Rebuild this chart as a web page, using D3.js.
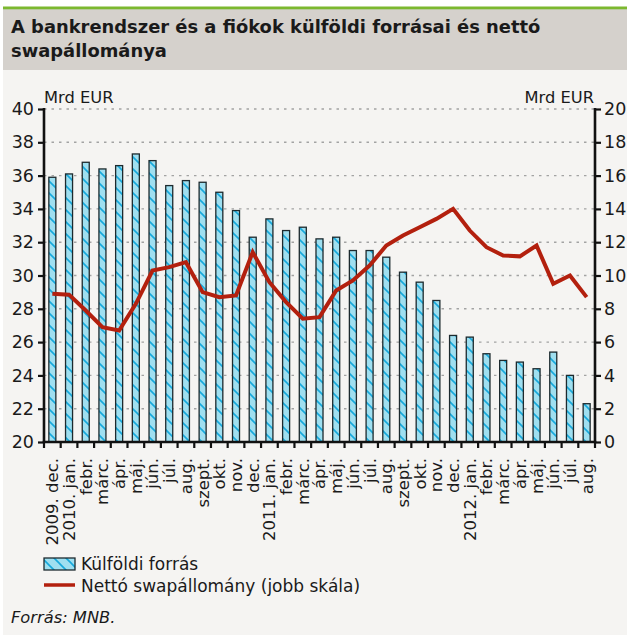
<!DOCTYPE html>
<html>
<head>
<meta charset="utf-8">
<script src="https://cdn.jsdelivr.net/npm/d3@7"></script>
<style>
  body { margin: 0; background: #fff; }
  svg { display: block; }
  text { font-family: "DejaVu Sans", sans-serif; fill: #1a1a1a; }
</style>
</head>
<body>
<script>
// months, with the year prefix where a new year starts
const months = [
  "2009. dec.", "2010. jan.", "febr.", "márc.", "ápr.", "máj.", "jún.", "júl.", "aug.", "szept.", "okt.", "nov.", "dec.",
  "2011. jan.", "febr.", "márc.", "ápr.", "máj.", "jún.", "júl.", "aug.", "szept.", "okt.", "nov.", "dec.",
  "2012. jan.", "febr.", "márc.", "ápr.", "máj.", "jún.", "júl.", "aug."
];

// Külföldi forrás (left scale, Mrd EUR)
const foreignFunds = [
  35.9, 36.1, 36.8, 36.4, 36.6, 37.3, 36.9, 35.4, 35.7, 35.6, 35.0, 33.9, 32.3,
  33.4, 32.7, 32.9, 32.2, 32.3, 31.5, 31.5, 31.1, 30.2, 29.6, 28.5, 26.4,
  26.3, 25.3, 24.9, 24.8, 24.4, 25.4, 24.0, 22.3
];

// Nettó swapállomány (right scale, Mrd EUR)
const netSwap = [
  8.9, 8.85, 7.9, 6.9, 6.7, 8.3, 10.3, 10.5, 10.8, 9.0, 8.7, 8.8, 11.4,
  9.6, 8.4, 7.4, 7.5, 9.1, 9.7, 10.6, 11.8, 12.4, 12.9, 13.4, 14.0,
  12.7, 11.7, 11.2, 11.15, 11.8, 9.5, 10.0, 8.7
];

const leftTicks = d3.range(20, 41, 2);
const rightTicks = d3.range(0, 21, 2);

const width = 627, height = 635;
const plot = { left: 44, right: 595, top: 109, bottom: 442 };

const svg = d3.select("body").append("svg")
    .attr("width", width)
    .attr("height", height);

// frame
svg.append("rect").attr("x", 3).attr("y", 9).attr("width", width - 3).attr("height", height - 9).attr("fill", "#f5f4f2");
svg.append("rect").attr("x", 3).attr("y", 9).attr("width", width - 3).attr("height", 61).attr("fill", "#d5d1cc");
svg.append("rect").attr("x", 3).attr("y", 6.5).attr("width", width - 3).attr("height", 2.8).attr("fill", "#7cb82f");

const title = svg.append("text")
    .attr("font-weight", "bold")
    .attr("font-size", 17.9);
title.append("tspan").attr("x", 11).attr("y", 33).text("A bankrendszer és a fiókok külföldi forrásai és nettó");
title.append("tspan").attr("x", 11).attr("y", 57).text("swapállománya");

// pattern for bars
const defs = svg.append("defs");
const pat = defs.append("pattern")
    .attr("id", "hatch")
    .attr("patternUnits", "userSpaceOnUse")
    .attr("width", 12)
    .attr("height", 12);
pat.append("rect").attr("width", 12).attr("height", 12).attr("fill", "#9fdff0");
pat.append("path")
    .attr("d", "M0,0 L12,12 M-3,9 L3,15 M9,-3 L15,3")
    .attr("stroke", "#16a9dc")
    .attr("stroke-width", 1.6);

const x = d3.scaleBand()
    .domain(d3.range(months.length))
    .range([plot.left, plot.right])
    .paddingInner(0.58)
    .paddingOuter(0.29);

const yLeft = d3.scaleLinear().domain([20, 40]).range([plot.bottom, plot.top]);
const yRight = d3.scaleLinear().domain([0, 20]).range([plot.bottom, plot.top]);

// grid
svg.append("g")
  .selectAll("line")
  .data(leftTicks.filter(d => d > 20))
  .join("line")
    .attr("x1", plot.left)
    .attr("x2", plot.right)
    .attr("y1", d => yLeft(d))
    .attr("y2", d => yLeft(d))
    .attr("stroke", "#a3a3a3")
    .attr("stroke-width", 1.4)
    .attr("stroke-dasharray", "2.5,5");

// bars
svg.append("g")
  .selectAll("rect")
  .data(foreignFunds)
  .join("rect")
    .attr("x", (d, i) => x(i))
    .attr("width", x.bandwidth())
    .attr("y", d => yLeft(d))
    .attr("height", d => yLeft(20) - yLeft(d))
    .attr("fill", "url(#hatch)")
    .attr("stroke", "#1d2a2e")
    .attr("stroke-width", 1.3);

// line
const line = d3.line()
    .x((d, i) => x(i) + x.bandwidth() / 2)
    .y(d => yRight(d));

svg.append("path")
    .datum(netSwap)
    .attr("d", line)
    .attr("fill", "none")
    .attr("stroke", "#b3200e")
    .attr("stroke-width", 4)
    .attr("stroke-linejoin", "miter");

// axes
const leftAxis = svg.append("g")
    .attr("transform", `translate(${plot.left},0)`)
    .call(d3.axisLeft(yLeft).tickValues(leftTicks).tickSize(6).tickPadding(4));
const rightAxis = svg.append("g")
    .attr("transform", `translate(${plot.right},0)`)
    .call(d3.axisRight(yRight).tickValues(rightTicks).tickSize(6).tickPadding(3));

[leftAxis, rightAxis].forEach(g => {
  g.select(".domain").attr("d", `M0,${plot.top - 1}V${plot.bottom}`).attr("stroke", "#111").attr("stroke-width", 2.6);
  g.selectAll(".tick line").attr("stroke", "#111").attr("stroke-width", 2.2);
  g.selectAll(".tick text").attr("font-size", 17.5).attr("font-family", "DejaVu Sans, sans-serif").attr("fill", "#1a1a1a");
});

// x axis
const xAxis = svg.append("g")
    .attr("transform", `translate(0,${plot.bottom})`);
xAxis.append("line")
    .attr("x1", plot.left - 1.3)
    .attr("x2", plot.right + 1.3)
    .attr("stroke", "#111")
    .attr("stroke-width", 2.6);
const boundaries = d3.range(months.length + 1).map(i => plot.left + i * (plot.right - plot.left) / months.length);
xAxis.selectAll(".xt")
  .data(boundaries)
  .join("line")
    .attr("class", "xt")
    .attr("x1", d => d).attr("x2", d => d)
    .attr("y1", 0).attr("y2", 6)
    .attr("stroke", "#111")
    .attr("stroke-width", 2.2);

xAxis.selectAll(".xl")
  .data(months)
  .join("text")
    .attr("class", "xl")
    .attr("transform", (d, i) => `translate(${x(i) + x.bandwidth() / 2},16) rotate(-90)`)
    .attr("text-anchor", "end")
    .attr("dy", "0.36em")
    .attr("font-size", 16.5)
    .text(d => d);

// unit labels
svg.append("text").attr("x", 44).attr("y", 103).attr("font-size", 16.3).text("Mrd EUR");
svg.append("text").attr("x", 594).attr("y", 103).attr("font-size", 16.3).attr("text-anchor", "end").text("Mrd EUR");

// legend
const legend = svg.append("g");
legend.append("rect")
    .attr("x", 44).attr("y", 558).attr("width", 31).attr("height", 12)
    .attr("fill", "url(#hatch)")
    .attr("stroke", "#1d2a2e")
    .attr("stroke-width", 1.3);
legend.append("text").attr("x", 81).attr("y", 570).attr("font-size", 17).text("Külföldi forrás");
legend.append("line")
    .attr("x1", 44).attr("x2", 75)
    .attr("y1", 585).attr("y2", 585)
    .attr("stroke", "#b3200e")
    .attr("stroke-width", 3.5);
legend.append("text").attr("x", 81).attr("y", 592).attr("font-size", 17).text("Nettó swapállomány (jobb skála)");

svg.append("text")
    .attr("x", 11).attr("y", 623)
    .attr("font-size", 16.3)
    .attr("font-style", "italic")
    .text("Forrás: MNB.");
</script>
</body>
</html>
